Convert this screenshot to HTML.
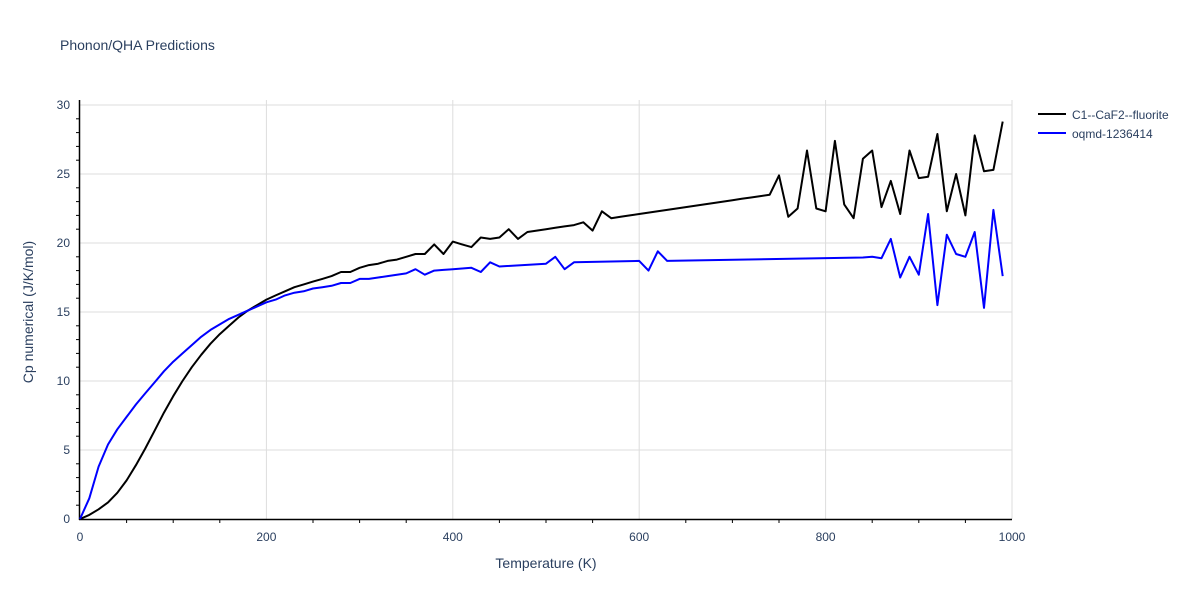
<!DOCTYPE html>
<html><head><meta charset="utf-8"><style>
body{margin:0;background:#fff;font-family:"Liberation Sans",sans-serif}
</style></head><body>
<svg id="chart" width="1200" height="600" xmlns="http://www.w3.org/2000/svg">
<rect width="1200" height="600" fill="#fff"/>
<text x="60" y="50" font-size="14" fill="#2a3f5f">Phonon/QHA Predictions</text>
<g id="grid"></g>
<g id="axes"></g>
<g id="series"></g>
<text x="546" y="568" font-size="14" fill="#2a3f5f" text-anchor="middle">Temperature (K)</text>
<text transform="translate(33,312) rotate(-90)" font-size="14" fill="#2a3f5f" text-anchor="middle">Cp numerical (J/K/mol)</text>
<g>
<g><line x1="1038" x2="1066" y1="114" y2="114" stroke="#000" stroke-width="2"/><text x="1072" y="119" font-size="12" fill="#2a3f5f">C1--CaF2--fluorite</text></g>
<g><line x1="1038" x2="1066" y1="133" y2="133" stroke="#00f" stroke-width="2"/><text x="1072" y="138" font-size="12" fill="#2a3f5f">oqmd-1236414</text></g>
</g>
</svg>
<script>
const xTicks=[0,200,400,600,800,1000];
const yTicks=[0,5,10,15,20,25,30];
const blackT=[0,10,20,30,40,50,60,70,80,90,100,110,120,130,140,150,160,170,180,190,200,210,220,230,240,250,260,270,280,290,300,310,320,330,340,350,360,370,380,390,400,410,420,430,440,450,460,470,480,490,500,510,520,530,540,550,560,570,580,590,600,610,620,630,640,650,660,670,680,690,700,710,720,730,740,750,760,770,780,790,800,810,820,830,840,850,860,870,880,890,900,910,920,930,940,950,960,970,980,990];
const blackCp=[0,0.3,0.7,1.2,1.9,2.8,3.9,5.1,6.4,7.7,8.9,10.0,11.0,11.9,12.7,13.4,14.0,14.6,15.1,15.5,15.9,16.2,16.5,16.8,17.0,17.2,17.4,17.6,17.9,17.9,18.2,18.4,18.5,18.7,18.8,19.0,19.2,19.2,19.9,19.2,20.1,19.9,19.7,20.4,20.3,20.4,21.0,20.3,20.8,20.9,21.0,21.1,21.2,21.3,21.5,20.9,22.3,21.8,21.9,22.0,22.1,22.2,22.3,22.4,22.5,22.6,22.7,22.8,22.9,23.0,23.1,23.2,23.3,23.4,23.5,24.9,21.9,22.5,26.7,22.5,22.3,27.4,22.8,21.8,26.1,26.7,22.6,24.5,22.1,26.7,24.7,24.8,27.9,22.3,25.0,22.0,27.8,25.2,25.3,28.8];
const blueT=[0,10,20,30,40,50,60,70,80,90,100,110,120,130,140,150,160,170,180,190,200,210,220,230,240,250,260,270,280,290,300,310,320,330,340,350,360,370,380,390,400,410,420,430,440,450,500,510,520,530,600,610,620,630,840,850,860,870,880,890,900,910,920,930,940,950,960,970,980,990];
const blueCp=[0,1.5,3.8,5.4,6.5,7.4,8.3,9.1,9.9,10.7,11.4,12.0,12.6,13.2,13.7,14.1,14.5,14.8,15.1,15.4,15.7,15.9,16.2,16.4,16.5,16.7,16.8,16.9,17.1,17.1,17.4,17.4,17.5,17.6,17.7,17.8,18.1,17.7,18.0,18.05,18.1,18.15,18.2,17.9,18.6,18.3,18.5,19.0,18.1,18.6,18.7,18.0,19.4,18.7,18.95,19.0,18.9,20.3,17.5,19.0,17.7,22.1,15.5,20.6,19.2,19.0,20.8,15.3,22.4,17.6];
const NS='http://www.w3.org/2000/svg';
const X=v=>80+v*0.932, Y=v=>519-v*13.8;
function mk(t,a,p){const e=document.createElementNS(NS,t);for(const k in a)e.setAttribute(k,a[k]);p.appendChild(e);return e;}
const grid=document.getElementById('grid'),axes=document.getElementById('axes'),ser=document.getElementById('series');
xTicks.forEach(t=>{
  if(t>0){const l=mk('line',{x1:X(t),x2:X(t),y1:100,y2:519,stroke:'#ddd','stroke-width':1},grid);
  
  }
  const tx=mk('text',{x:X(t),y:541,'font-size':12,fill:'#2a3f5f','text-anchor':'middle'},axes);tx.textContent=t;
  
  
});
yTicks.forEach(t=>{
  if(t>0){const l=mk('line',{x1:80,x2:1012,y1:Y(t),y2:Y(t),stroke:'#ddd','stroke-width':1},grid);
  
  }
  const tx=mk('text',{x:70,y:Y(t)+4,'font-size':12,fill:'#2a3f5f','text-anchor':'end'},axes);tx.textContent=t;
  
  
});
for(let t=50;t<=1000;t+=50){if(t%200)mk('line',{x1:X(t),x2:X(t),y1:519,y2:523,stroke:'#000','stroke-width':1},axes);}
for(let v=1;v<=30;v++){if(v%5)mk('line',{x1:76,x2:80,y1:Y(v),y2:Y(v),stroke:'#000','stroke-width':1},axes);}
mk('line',{x1:79,x2:1012,y1:519.5,y2:519.5,stroke:'#000','stroke-width':1.5},axes);
mk('line',{x1:79.5,x2:79.5,y1:100,y2:520,stroke:'#000','stroke-width':1.5},axes);
function line(T,V,c,n){const d=T.map((t,i)=>(i?'L':'M')+X(t).toFixed(1)+','+Y(V[i]).toFixed(1)).join('');
  const p=mk('path',{d:d,fill:'none',stroke:c,'stroke-width':2,'stroke-linejoin':'round'},ser);
  
  }
line(blackT,blackCp,'#000','series-c1-caf2-fluorite');
line(blueT,blueCp,'#00f','series-oqmd-1236414');
</script>
</body></html>
